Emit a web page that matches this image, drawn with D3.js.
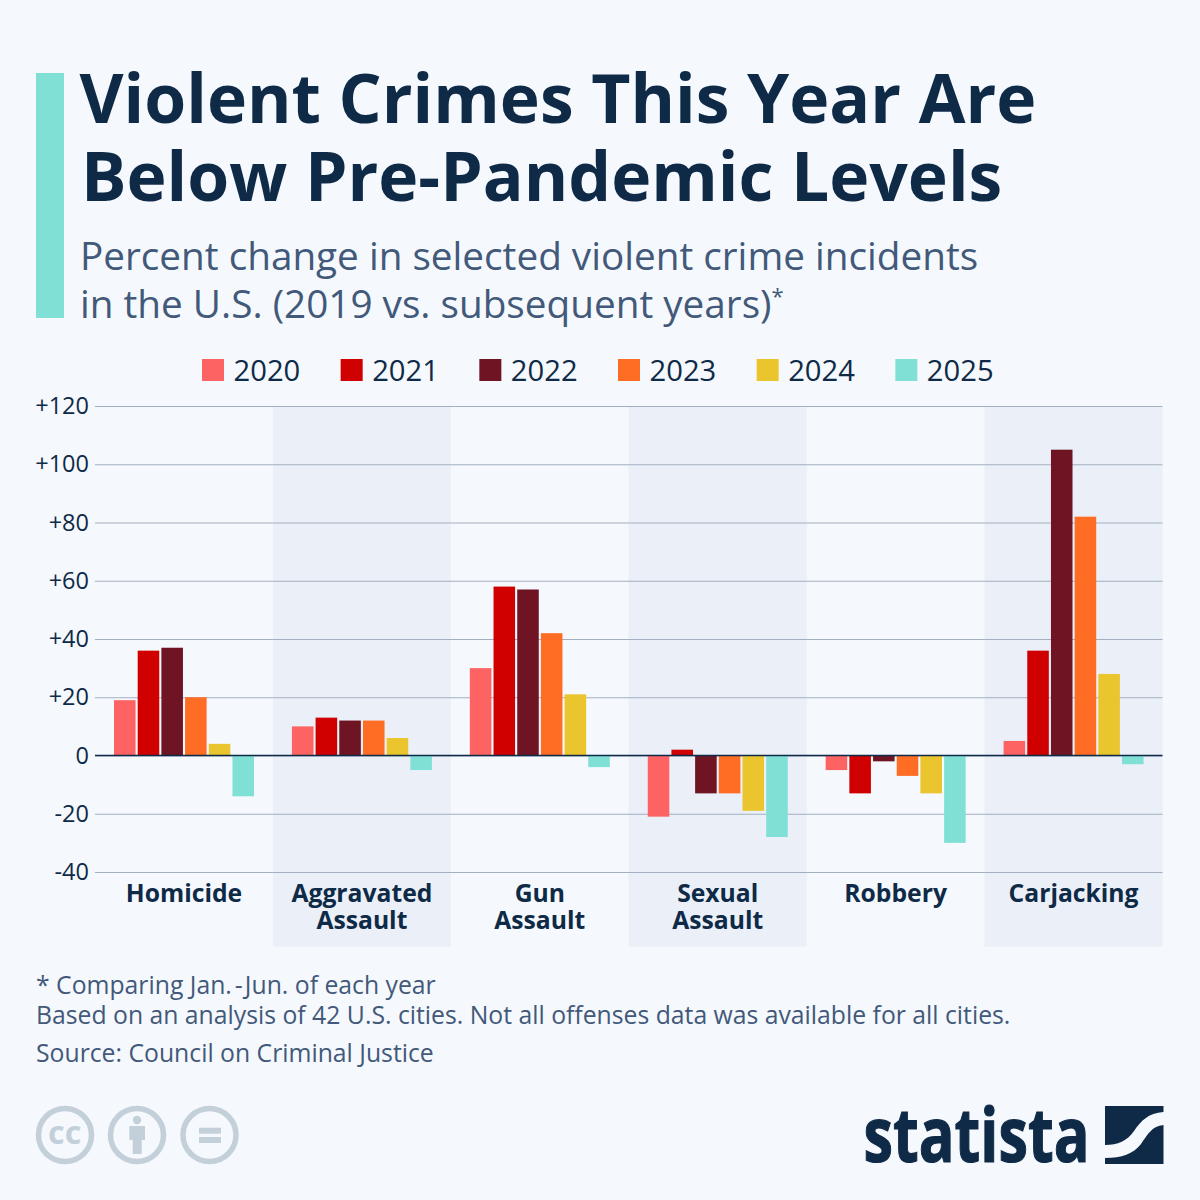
<!DOCTYPE html>
<html>
<head>
<meta charset="utf-8">
<script src="https://cdn.jsdelivr.net/npm/d3@7"></script>
<style>
html, body { margin: 0; padding: 0; background: #f5f8fc; }
svg { display: block; }
text { font-family: "Open Sans", sans-serif; }
</style>
</head>
<body>
<div id="chart"></div>
<script>
/* data */
var years = ["2020", "2021", "2022", "2023", "2024", "2025"],
    categories = ["Homicide", "Aggravated Assault", "Gun Assault", "Sexual Assault", "Robbery", "Carjacking"],
    catLines = [["Homicide"], ["Aggravated", "Assault"], ["Gun", "Assault"], ["Sexual", "Assault"], ["Robbery"], ["Carjacking"]],
    yTicks = [120, 100, 80, 60, 40, 20, 0, -20, -40],
    homicide = [19, 36, 37, 20, 4, -14],
    aggravated = [10, 13, 12, 12, 6, -5],
    gun = [30, 58, 57, 42, 21, -4],
    sexual = [-21, 2, -13, -13, -19, -28],
    robbery = [-5, -13, -2, -7, -13, -30],
    carjacking = [5, 36, 105, 82, 28, -3],
    series = [homicide, aggravated, gun, sexual, robbery, carjacking],
    colors = ["#fe6363", "#d00000", "#6e1423", "#ff6d24", "#eac52d", "#80e0d5"];

/* margins and graphical parameters */
var W = 1200,
    H = 1200,
    plot = { left: 95, right: 1162.5, top: 406, bottom: 872 },
    navy = "#0f2a47",
    slate = "#42597a",
    badge = "#c3d0da";

var svg = d3.select("#chart")
    .append("svg")
    .attr("width", W)
    .attr("height", H);

svg.append("rect")
    .attr("width", W)
    .attr("height", H)
    .attr("fill", "#f5f8fc");

/* header */
svg.append("rect")
    .attr("x", 36)
    .attr("y", 73)
    .attr("width", 28)
    .attr("height", 245)
    .attr("fill", "#80e0d5");

var titleG = svg.append("g")
    .attr("fill", navy)
    .attr("font-weight", 700)
    .attr("font-size", 67.8);
titleG.append("text").attr("x", 79.5).attr("y", 123).text("Violent Crimes This Year Are");
titleG.append("text").attr("x", 81).attr("y", 201).text("Below Pre-Pandemic Levels");

var subG = svg.append("g")
    .attr("fill", slate)
    .attr("font-size", 38.7);
subG.append("text").attr("x", 80).attr("y", 270).text("Percent change in selected violent crime incidents");
var sub2 = subG.append("text").attr("x", 80).attr("y", 318);
sub2.append("tspan").text("in the U.S. (2019 vs. subsequent years)");
sub2.append("tspan").attr("font-size", 22).attr("dy", -14).text("*");

/* scales */
var x = d3.scaleBand()
    .domain(categories)
    .range([plot.left, plot.right]),
    xInner = d3.scaleBand()
    .domain(years)
    .range([19, 159])
    .paddingInner(0.09),
    y = d3.scaleLinear()
    .domain([-40, 120])
    .range([plot.bottom, plot.top]);

/* alternating bands */
svg.append("g")
    .selectAll("rect")
    .data(categories.filter((d, i) => i % 2 == 1))
    .join("rect")
    .attr("x", d => x(d))
    .attr("y", plot.top)
    .attr("width", x.bandwidth())
    .attr("height", 946.5 - plot.top)
    .attr("fill", "#ebf0f8");

/* grid and y axis */
var yAxis = d3.axisLeft(y)
    .tickValues(yTicks)
    .tickSize(-(plot.right - plot.left))
    .tickPadding(6)
    .tickFormat(d => d > 0 ? "+" + d : String(d));

var yG = svg.append("g")
    .attr("transform", "translate(" + plot.left + ",0)")
    .call(yAxis);
yG.select(".domain").remove();
yG.selectAll("line")
    .attr("stroke", "#a3afc0")
    .attr("stroke-width", 1);
yG.selectAll("text")
    .attr("fill", navy)
    .attr("font-size", 23.5)
    .attr("font-family", "'Open Sans', sans-serif");

/* bars */
svg.append("g")
    .selectAll("g")
    .data(series)
    .join("g")
    .attr("transform", (d, i) => "translate(" + x(categories[i]) + ",0)")
    .selectAll("rect")
    .data(d => d)
    .join("rect")
    .attr("x", (d, i) => xInner(years[i]))
    .attr("y", d => y(Math.max(0, d)))
    .attr("width", xInner.bandwidth())
    .attr("height", d => Math.abs(y(d) - y(0)))
    .attr("fill", (d, i) => colors[i]);

/* zero line */
svg.append("line")
    .attr("x1", plot.left)
    .attr("x2", plot.right)
    .attr("y1", y(0))
    .attr("y2", y(0))
    .attr("stroke", navy)
    .attr("stroke-width", 1.5);

/* category labels */
var catG = svg.append("g")
    .selectAll("text")
    .data(catLines)
    .join("text")
    .attr("text-anchor", "middle")
    .attr("fill", navy)
    .attr("font-weight", 700)
    .attr("font-size", 24.7);
catG.selectAll("tspan")
    .data((d, i) => d.map(t => ({ t: t, c: categories[i] })))
    .join("tspan")
    .attr("x", d => x(d.c) + x.bandwidth() / 2)
    .attr("y", (d, i) => 902 + i * 27)
    .text(d => d.t);

/* legend */
var legendX = d3.scaleBand()
    .domain(years)
    .range([202, 1034]);
var lgd = svg.append("g")
    .selectAll("g")
    .data(years)
    .join("g")
    .attr("transform", d => "translate(" + legendX(d) + ",359)");
lgd.append("rect")
    .attr("width", 22)
    .attr("height", 22)
    .attr("fill", (d, i) => colors[i]);
lgd.append("text")
    .attr("x", 31.5)
    .attr("y", 22)
    .attr("fill", navy)
    .attr("font-size", 29.2)
    .text(d => d);

/* footer */
var foot = svg.append("g")
    .attr("fill", slate)
    .attr("font-size", 24.75);
var foot1 = foot.append("text").attr("x", 36).attr("y", 994);
foot1.append("tspan").text("* Comparing Jan.");
foot1.append("tspan").attr("dx", 3).text("-");
foot1.append("tspan").attr("dx", 2).text("Jun. of each year");
foot.append("text").attr("x", 36).attr("y", 1024).text("Based on an analysis of 42 U.S. cities. Not all offenses data was available for all cities.");
foot.append("text").attr("x", 36).attr("y", 1062).text("Source: Council on Criminal Justice");

/* licence badges */
var badges = svg.append("g");
[65, 137, 209.5].forEach(function (cx) {
    badges.append("circle")
        .attr("cx", cx)
        .attr("cy", 1135)
        .attr("r", 26.5)
        .attr("fill", "none")
        .attr("stroke", badge)
        .attr("stroke-width", 5.5);
});
badges.append("text")
    .attr("x", 65)
    .attr("y", 1143.5)
    .attr("text-anchor", "middle")
    .attr("fill", badge)
    .attr("font-weight", 800)
    .attr("font-size", 25)
    .attr("letter-spacing", 0.5)
    .text("CC");
badges.append("circle").attr("cx", 137).attr("cy", 1120).attr("r", 4.2).attr("fill", badge);
badges.append("path")
    .attr("d", "M129.3,1126H145V1140H141.7V1154H132.7V1140H129.3Z")
    .attr("fill", badge);
badges.append("rect").attr("x", 199).attr("y", 1127.7).attr("width", 22).attr("height", 6).attr("fill", badge);
badges.append("rect").attr("x", 199).attr("y", 1137).attr("width", 22).attr("height", 6).attr("fill", badge);

/* logo */
svg.append("text")
    .attr("x", 863.5)
    .attr("y", 1162)
    .attr("fill", navy)
    .attr("stroke", navy)
    .attr("stroke-width", 1.2)
    .attr("font-family", "'Liberation Sans Narrow', 'Open Sans', sans-serif")
    .attr("font-weight", 700)
    .attr("font-size", 76)
    .attr("textLength", 226)
    .attr("lengthAdjust", "spacingAndGlyphs")
    .text("statista");
svg.append("path")
    .attr("d", "M1105,1106H1163.5V1112C1148,1113 1141,1121 1134,1131C1127,1141 1118,1145 1105,1145Z")
    .attr("fill", navy);
svg.append("path")
    .attr("d", "M1163.5,1125V1164H1105V1158C1122,1158 1133,1154 1141,1144C1148,1134 1152,1126 1163.5,1125Z")
    .attr("fill", navy);
</script>
</body>
</html>
